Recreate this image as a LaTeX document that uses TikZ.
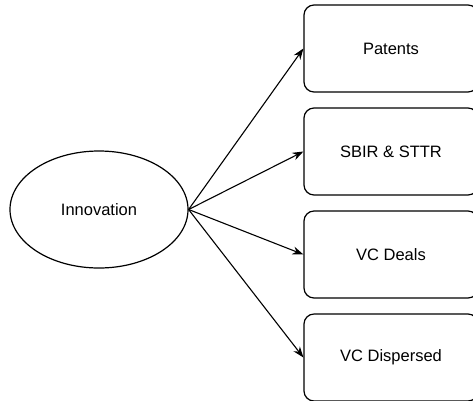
\documentclass[tikz,border=0pt]{standalone}
\usepackage{fontspec}
\setmainfont{Liberation Sans}
\usetikzlibrary{arrows.meta,shapes.geometric}
\begin{document}
\begin{tikzpicture}[x=1pt,y=-1pt,
  every node/.style={font=\fontsize{16.5}{19}\selectfont},
  outcome/.style={draw,line width=1.2pt,rounded corners=10pt,minimum width=174pt,minimum height=87pt,inner sep=0pt},
  link/.style={line width=1.1pt,-{Stealth[length=11pt,width=8pt]}}]
\useasboundingbox (0,0) rectangle (473,400);
\clip (0,0) rectangle (473,400);
\node[draw,ellipse,line width=1.2pt,minimum width=178pt,minimum height=117pt,inner sep=0pt] (inno) at (99,209.5) {Innovation};
\node[outcome] (pat) at (391,48.5) {Patents};
\node[outcome] (sbir) at (391,151.5) {SBIR \& STTR};
\node[outcome] (vcd) at (391,254.5) {VC Deals};
\node[outcome] (vcs) at (391,357.5) {VC Dispersed};
\foreach \t in {pat,sbir,vcd,vcs}
  \draw[link] (inno.east) -- (\t.west);
\end{tikzpicture}
\end{document}
